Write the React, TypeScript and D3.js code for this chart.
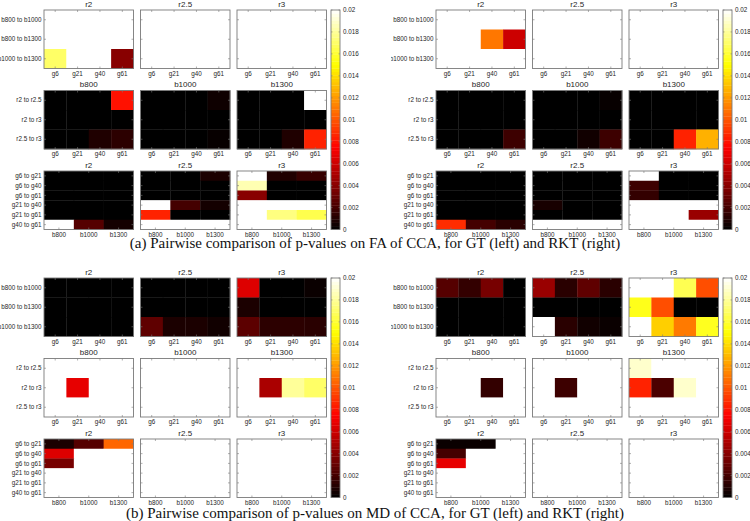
import React from "react";
import * as d3 from "d3";

const W = 0.05; // p-value above the colour range (shown white)

const radii = ["r2", "r2.5", "r3"];
const bValues = ["b800", "b1000", "b1300"];
const gValues = ["g6", "g21", "g40", "g61"];
const bPairs = ["b800 to b1000", "b800 to b1300", "b1000 to b1300"];
const rPairs = ["r2 to r2.5", "r2 to r3", "r2.5 to r3"];
const gPairs = ["g6 to g21", "g6 to g40", "g6 to g61", "g21 to g40", "g21 to g61", "g40 to g61"];
const colorTicks = [0, 0.002, 0.004, 0.006, 0.008, 0.01, 0.012, 0.014, 0.016, 0.018, 0.02];
const colorTickLabels = ["0", "0.002", "0.004", "0.006", "0.008", "0.01", "0.012", "0.014", "0.016", "0.018", "0.02"];
const captions = [
  "(a) Pairwise comparison of p-values on FA of CCA, for GT (left) and RKT (right)",
  "(b) Pairwise comparison of p-values on MD of CCA, for GT (left) and RKT (right)",
];

// ---- FA, GT ----
const faGtByRadius = [
  [[W, W, W, W], [W, W, W, W], [0.017, W, W, 0.004]],
  [[W, W, W, W], [W, W, W, W], [W, W, W, W]],
  [[W, W, W, W], [W, W, W, W], [W, W, W, W]],
];
const faGtByB = [
  [[0, 0, 0, 0.008], [0, 0, 0, 0], [0, 0, 0.0009, 0.0013]],
  [[0, 0, 0, 0.0004], [0, 0, 0, 0], [0, 0, 0, 0.0002]],
  [[0, 0, 0, W], [0, 0, 0, 0], [0, 0, 0.0009, 0.0085]],
];
const faGtByGamma = [
  [[0, 0, 0], [0, 0, 0], [0, 0, 0], [0, 0, 0], [0, 0, 0], [W, 0.0025, 0.0006]],
  [[0, 0, 0.0008], [0, 0, 0], [0, 0, 0], [W, 0.002, 0.0006], [0.0085, 0, 0], [W, W, W]],
  [[W, 0.0009, 0.0016], [0.0185, 0, 0], [0.004, 0, 0], [W, W, W], [W, 0.0175, 0.0165], [W, W, W]],
];

// ---- FA, RKT ----
const faRktByRadius = [
  [[W, W, W, W], [W, W, 0.011, 0.006], [W, W, W, W]],
  [[W, W, W, W], [W, W, W, W], [W, W, W, W]],
  [[W, W, W, W], [W, W, W, W], [W, W, W, W]],
];
const faRktByB = [
  [[0, 0, 0, 0], [0, 0, 0, 0], [0, 0, 0, 0.0018]],
  [[0, 0, 0, 0.0002], [0, 0, 0, 0], [0, 0, 0.0005, 0.0018]],
  [[0, 0, 0, 0], [0, 0, 0, 0], [0, 0, 0.0085, 0.0127]],
];
const faRktByGamma = [
  [[0, 0, 0], [0, 0, 0], [0, 0, 0], [0, 0, 0], [0, 0, 0], [0.0088, 0.002, 0.0012]],
  [[0, 0, 0], [0, 0, 0], [0, 0, 0], [0.0007, 0, 0], [0, 0, 0], [W, W, W]],
  [[W, 0, 0], [0.0018, 0, 0], [0.0015, 0, 0], [W, W, W], [W, W, 0.0045], [W, W, W]],
];

// ---- MD, GT ----
const mdGtByRadius = [
  [[0, 0, 0, 0], [0, 0, 0, 0], [0, 0, 0, 0]],
  [[0, 0, 0, 0], [0, 0, 0, 0], [0.0028, 0.0008, 0.0008, 0.0005]],
  [[0.0065, 0, 0, 0.0003], [0.0008, 0, 0, 0], [0.0027, 0.0013, 0.0013, 0.0012]],
];
const mdGtByB = [
  [[W, W, W, W], [W, 0.0068, W, W], [W, W, W, W]],
  [[W, W, W, W], [W, W, W, W], [W, W, W, W]],
  [[W, W, W, W], [W, 0.005, 0.018, 0.017], [W, W, W, W]],
];
const mdGtByGamma = [
  [[0.0008, 0.0025, 0.0105], [0.0065, W, W], [0.0035, W, W], [W, W, W], [W, W, W], [W, W, W]],
  [[W, W, W], [W, W, W], [W, W, W], [W, W, W], [W, W, W], [W, W, W]],
  [[W, W, W], [W, W, W], [W, W, W], [W, W, W], [W, W, W], [W, W, W]],
];

// ---- MD, RKT ----
const mdRktByRadius = [
  [[0.0025, 0.0015, 0.0035, 0], [0, 0, 0, 0], [0, 0, 0, 0]],
  [[0.0045, 0.0012, 0.0028, 0.0012], [0, 0, 0, 0], [W, 0.0012, 0.0005, 0.0003]],
  [[W, W, 0.0166, 0.0098], [0.0155, 0.0098, 0, 0], [W, 0.0136, 0.0111, 0.0156]],
];
const mdRktByB = [
  [[W, W, W, W], [W, W, 0.0015, W], [W, W, W, W]],
  [[W, W, W, W], [W, 0.0018, W, W], [W, W, W, W]],
  [[0.019, W, W, W], [0.0085, 0.0022, 0.019, W], [W, W, W, W]],
];
const mdRktByGamma = [
  [[0.0003, 0.0003, W], [0.002, W, W], [0.0068, W, W], [W, W, W], [W, W, W], [W, W, W]],
  [[W, W, W], [W, W, W], [W, W, W], [W, W, W], [W, W, W], [W, W, W]],
  [[W, W, W], [W, W, W], [W, W, W], [W, W, W], [W, W, W], [W, W, W]],
];

const groups = [
  [
    [faGtByRadius, faGtByB, faGtByGamma],
    [faRktByRadius, faRktByB, faRktByGamma],
  ],
  [
    [mdGtByRadius, mdGtByB, mdGtByGamma],
    [mdRktByRadius, mdRktByB, mdRktByGamma],
  ],
];

// ---- layout ----
const FIG_Y = [0, 268];
const GROUP_X = [0, 392];
const PANEL_X = [44, 140.5, 237];
const PANEL_W = 89.5;
const ROW_Y = [10, 90.5, 171];
const PANEL_H = 58.5;
const CB_X = 331;
const CB_W = 9;
const TEXT = "#262626";
const AXIS = "#7a7a7a";
const SANS = "'Liberation Sans', Arial, sans-serif";
const VMAX = 0.02;
const NCOL = 64;

// MATLAB-like "hot" colour map, black at 0 and white at VMAX and above
function hotColor(t: number) {
  const i = Math.max(0, Math.min(1, t)) * NCOL;
  const r = Math.min(1, i / 24);
  const g = Math.max(0, Math.min(1, (i - 24) / 24));
  const b = Math.max(0, Math.min(1, (i - 48) / 16));
  return d3.rgb(r * 255, g * 255, b * 255).formatHex();
}
const colorOf = (v: number) => hotColor(v / VMAX);

function Panel(props: {
  x: number; y: number; title: string; xCats: string[]; yCats: string[];
  values: number[][]; showY: boolean;
}) {
  const { x, y, title, xCats, yCats, values, showY } = props;
  const xs = d3.scaleBand<string>().domain(xCats).range([x, x + PANEL_W]);
  const ys = d3.scaleBand<string>().domain(yCats).range([y, y + PANEL_H]);
  const tl = 2;
  return (
    <g>
      {yCats.map((yc, ri) =>
        xCats.map((xc, ci) => (
          <rect key={yc + xc} x={xs(xc)} y={ys(yc)} width={xs.bandwidth() + 0.3}
            height={ys.bandwidth() + 0.3} fill={colorOf(values[ri][ci])} />
        ))
      )}
      {xCats.map((xc) => {
        const cx = (xs(xc) as number) + xs.bandwidth() / 2;
        return (
          <g key={"xt" + xc}>
            <line x1={cx} x2={cx} y1={y} y2={y + tl} stroke={AXIS} strokeWidth={0.6} />
            <line x1={cx} x2={cx} y1={y + PANEL_H} y2={y + PANEL_H - tl} stroke={AXIS} strokeWidth={0.6} />
            <text x={cx} y={y + PANEL_H + 7.2} fontSize={6.3} textAnchor="middle" fill={TEXT} fontFamily={SANS}>{xc}</text>
          </g>
        );
      })}
      {yCats.map((yc) => {
        const cy = (ys(yc) as number) + ys.bandwidth() / 2;
        return (
          <g key={"yt" + yc}>
            <line x1={x} x2={x + tl} y1={cy} y2={cy} stroke={AXIS} strokeWidth={0.6} />
            <line x1={x + PANEL_W} x2={x + PANEL_W - tl} y1={cy} y2={cy} stroke={AXIS} strokeWidth={0.6} />
            {showY && (
              <text x={x - 2.5} y={cy + 2.2} fontSize={6.3} textAnchor="end" fill={TEXT} fontFamily={SANS}>{yc}</text>
            )}
          </g>
        );
      })}
      <rect x={x} y={y} width={PANEL_W} height={PANEL_H} fill="none" stroke={AXIS} strokeWidth={0.9} />
      <text x={x + PANEL_W / 2} y={y - 3.5} fontSize={8} textAnchor="middle" fill={TEXT} fontFamily={SANS}>{title}</text>
    </g>
  );
}

function ColorBar(props: { x: number; y0: number; y1: number }) {
  const { x, y0, y1 } = props;
  const cs = d3.scaleLinear().domain([0, VMAX]).range([y1, y0]);
  const idx = d3.range(0, NCOL);
  const step = (y1 - y0) / NCOL;
  return (
    <g>
      {idx.map((i) => (
        <rect key={i} x={x} y={cs(((i + 1) / NCOL) * VMAX)} width={CB_W} height={step + 0.3}
          fill={hotColor((i + 0.5) / NCOL)} />
      ))}
      {colorTicks.map((t, k) => (
        <g key={k}>
          <line x1={x} x2={x + 1.5} y1={cs(t)} y2={cs(t)} stroke={AXIS} strokeWidth={0.6} />
          <line x1={x + CB_W} x2={x + CB_W - 1.5} y1={cs(t)} y2={cs(t)} stroke={AXIS} strokeWidth={0.6} />
          <text x={x + CB_W + 3} y={cs(t) + 2.2} fontSize={6.3} fill={TEXT} fontFamily={SANS}>{colorTickLabels[k]}</text>
        </g>
      ))}
      <rect x={x} y={y0} width={CB_W} height={y1 - y0} fill="none" stroke={AXIS} strokeWidth={0.9} />
    </g>
  );
}

function Group(props: { gx: number; gy: number; data: number[][][][] }) {
  const { gx, gy, data } = props;
  const rowsSpec = [
    { titles: radii, xCats: gValues, yCats: bPairs },
    { titles: bValues, xCats: gValues, yCats: rPairs },
    { titles: radii, xCats: bValues, yCats: gPairs },
  ];
  return (
    <g>
      {rowsSpec.map((spec, ri) =>
        spec.titles.map((title, pi) => (
          <Panel key={ri + "-" + pi} x={gx + PANEL_X[pi]} y={gy + ROW_Y[ri]} title={title}
            xCats={spec.xCats} yCats={spec.yCats} values={data[ri][pi]} showY={pi === 0} />
        ))
      )}
      <ColorBar x={gx + CB_X} y0={gy + ROW_Y[0]} y1={gy + ROW_Y[2] + PANEL_H} />
    </g>
  );
}

export default function App() {
  return (
    <svg width={750} height={521} style={{ position: "absolute", left: 0, top: 0, background: "#fff" }}>
      <defs>
        <clipPath id="clipRight">
          <rect x={391} y={0} width={359} height={521} />
        </clipPath>
      </defs>
      <rect x={0} y={0} width={750} height={521} fill="#fff" />
      {groups.map((fig, fi) => (
        <g key={fi}>
          {fig.map((data, gi) => (
            <g key={gi} clipPath={gi === 1 ? "url(#clipRight)" : undefined}>
              <Group gx={GROUP_X[gi]} gy={FIG_Y[fi]} data={data} />
            </g>
          ))}
          <text x={375} y={FIG_Y[fi] + (fi === 0 ? 248 : 250)} fontSize={15} textAnchor="middle"
            fill="#111" fontFamily="'Liberation Serif', 'Times New Roman', serif">{captions[fi]}</text>
        </g>
      ))}
    </svg>
  );
}
